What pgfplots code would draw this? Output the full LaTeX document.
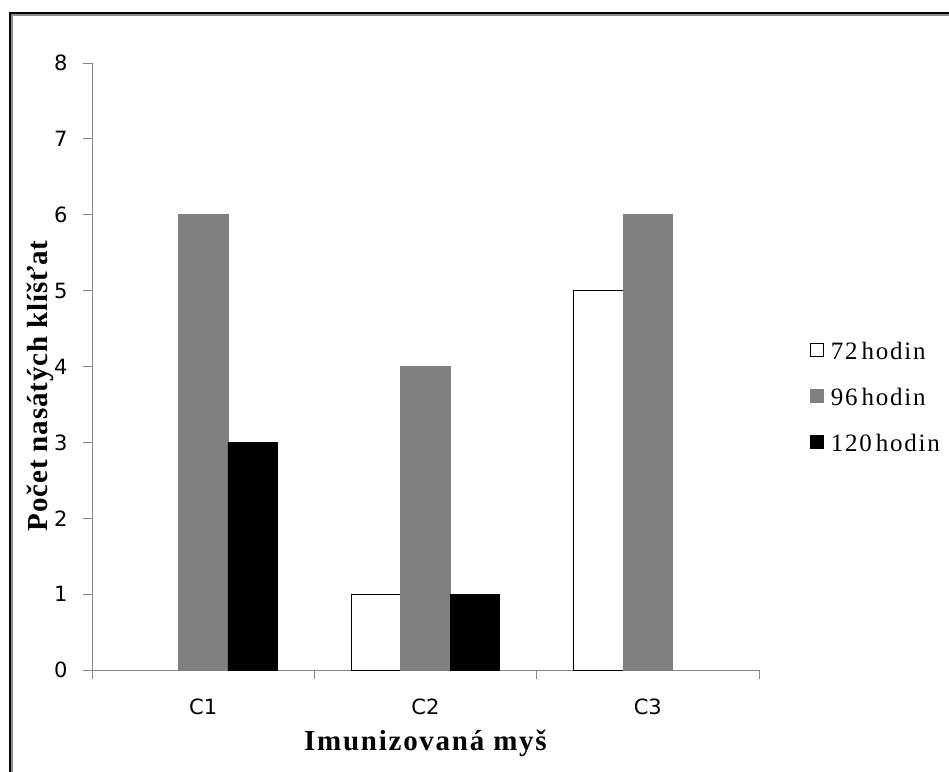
\documentclass[border=0pt]{standalone}
\usepackage{fontspec}
\setmainfont{Liberation Serif}
\newfontfamily\tickfont{DejaVu Sans}
\usepackage{pgfplots}
\pgfplotsset{compat=1.18}
\definecolor{axisgray}{HTML}{868686}
\definecolor{bargray}{HTML}{808080}
\pgfplotsset{sqlegend/.style={legend image code/.code={\draw[##1,line width=0.8pt] (0pt,-6.5pt) rectangle (13pt,6.5pt);}}}
\begin{document}
\begin{tikzpicture}[x=1pt,y=1pt]
\useasboundingbox (0,0) rectangle (949,771);
\draw[line width=2pt, black] (9.5,-5) -- (9.5,758) -- (960,758);
\draw[line width=1.5pt, black!45] (11.8,-5) -- (11.8,755.8) -- (960,755.8);
\begin{axis}[
  at={(92pt,101pt)}, anchor=south west,
  scale only axis, width=667pt, height=607pt,
  ybar,
  xmin=-0.5, xmax=2.5, ymin=0, ymax=8,
  axis x line*=bottom, axis y line*=left,
  axis line style={-, draw=axisgray, line width=0.8pt},
  tick style={draw=axisgray, line width=0.8pt},
  tick align=outside, major tick length=9pt,
  ytick={0,1,2,3,4,5,6,7,8},
  xtick={-0.5,0.5,1.5,2.5}, xticklabels={,,,},
  extra x ticks={0,1,2}, extra x tick labels={C1,C2,C3},
  extra x tick style={major tick length=0pt},
  /pgf/number format/assume math mode=true,
  ticklabel style={font=\tickfont\fontsize{21}{21}\selectfont},
  yticklabel style={xshift=-12pt},
  xticklabel style={yshift=-25pt},
  xlabel={Imunizovaná myš},
  ylabel={Počet nasátých klíšťat},
  xlabel style={at={(axis description cs:0.5,-0.1318)}, anchor=base, font=\bfseries\fontsize{29}{29}\selectfont\addfontfeature{LetterSpace=6}},
  ylabel style={at={(axis description cs:-0.066,0.468)}, anchor=base, font=\bfseries\fontsize{29}{29}\selectfont\addfontfeature{LetterSpace=3}},
  legend style={at={(axis description cs:1.0765,0.542)}, anchor=north west, draw=none, fill=none,
    inner sep=0pt, outer sep=0pt, row sep=28pt, column sep=7pt,
    font=\fontsize{25}{25}\selectfont\addfontfeature{LetterSpace=7},
    nodes={inner sep=0pt, text height=18pt, text depth=0pt}},
  legend cell align=left,
]
\addplot[fill=white, draw=black, line width=0.8pt, bar width=0.2225, bar shift=-0.2225, sqlegend] coordinates {(1,1) (2,5)};
\addplot[fill=bargray, draw=bargray, line width=0.8pt, bar width=0.2225, bar shift=0, sqlegend] coordinates {(0,6) (1,4) (2,6)};
\addplot[fill=black, draw=black, line width=0.8pt, bar width=0.2225, bar shift=0.2225, sqlegend] coordinates {(0,3) (1,1)};
\legend{72\hspace{4pt}hodin, 96\hspace{4pt}hodin, 120\hspace{4pt}hodin}
\end{axis}
\end{tikzpicture}
\end{document}
